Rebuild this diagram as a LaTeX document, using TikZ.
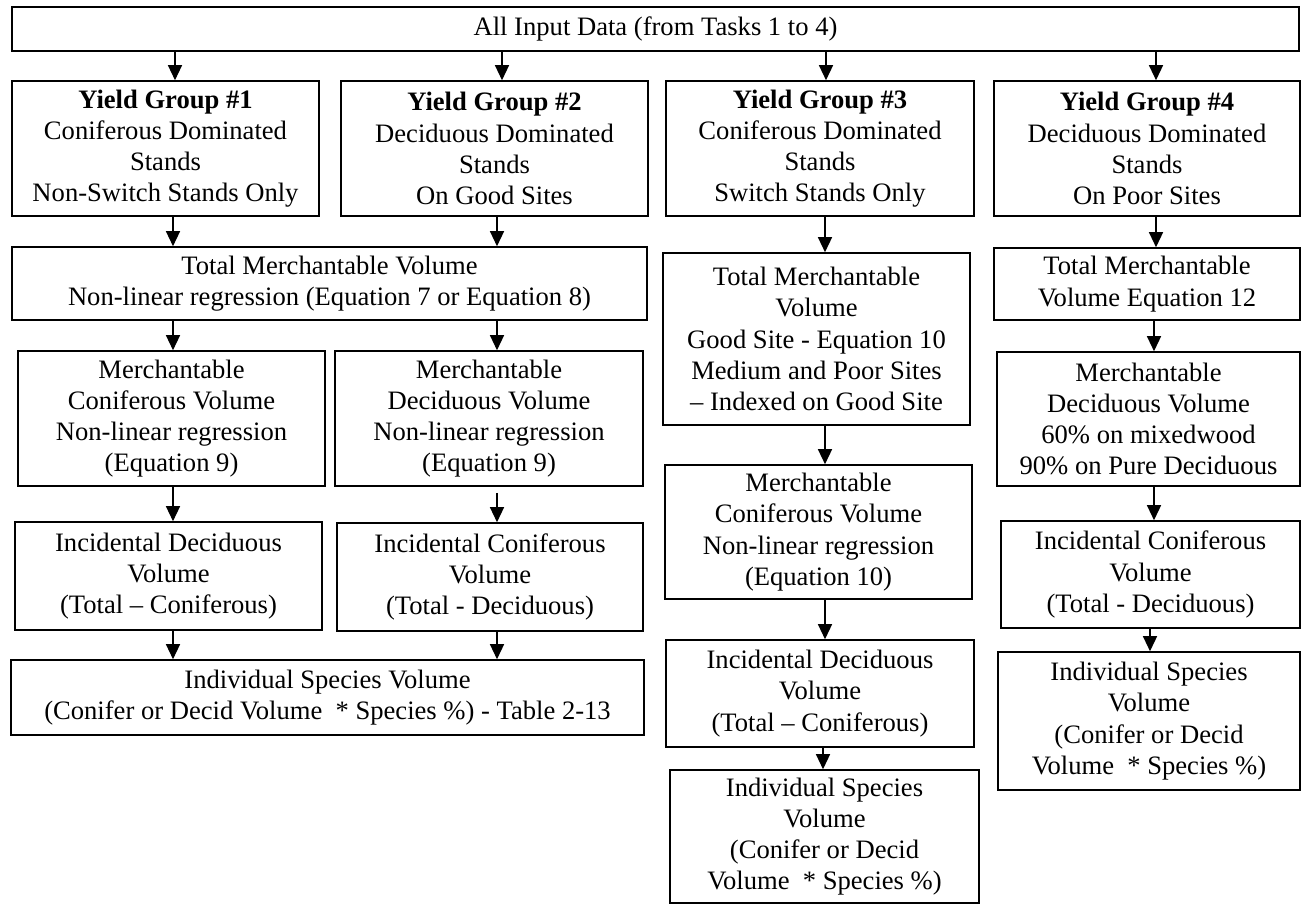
\documentclass[tikz,border=0pt]{standalone}
\usepackage{fontspec}
\setmainfont{Liberation Serif}
\usetikzlibrary{arrows.meta}
\tikzset{
  box/.style={draw, line width=0.8pt, inner sep=0pt, align=center, anchor=center,
    font=\fontsize{13.3}{15.6}\selectfont},
  arr/.style={line width=0.65pt, -{Triangle[length=7.5pt,width=7pt]}}
}
\newcommand{\mybox}[6]{\node[box, minimum width={(#4-#2)*0.5pt}, minimum height={(#5-#3)*0.5pt}] (#1) at ({(#2+#4)/2},{(#3+#5)/2}) {#6};}
\begin{document}
\begin{tikzpicture}[x=0.5pt,y=-0.5pt]
\useasboundingbox (0,0) rectangle (1304,907);
% top
\mybox{top}{12}{7}{1299}{51}{All Input Data (from Tasks 1 to 4)}
% yield groups
\mybox{yg1}{12}{81}{319}{216}{\textbf{Yield Group \#1}\\Coniferous Dominated\\Stands\\Non-Switch Stands Only}
\mybox{yg2}{341}{81}{648}{216}{\textbf{Yield Group \#2}\\Deciduous Dominated\\Stands\\On Good Sites}
\mybox{yg3}{666}{81}{974}{216}{\textbf{Yield Group \#3}\\Coniferous Dominated\\Stands\\Switch Stands Only}
\mybox{yg4}{994}{81}{1300}{216}{\textbf{Yield Group \#4}\\Deciduous Dominated\\Stands\\On Poor Sites}
% second row
\mybox{tmv1}{12}{247}{647}{320}{Total Merchantable Volume\\Non-linear regression (Equation 7 or Equation 8)}
\mybox{tmv3}{663}{253}{970}{425}{Total Merchantable\\Volume\\Good Site - Equation 10\\Medium and Poor Sites\\– Indexed on Good Site}
\mybox{tmv4}{994}{248}{1300}{320}{Total Merchantable\\Volume Equation 12}
% third row
\mybox{mcv1}{18}{351}{325}{486}{Merchantable\\Coniferous Volume\\Non-linear regression\\(Equation 9)}
\mybox{mdv2}{335}{351}{643}{486}{Merchantable\\Deciduous Volume\\Non-linear regression\\(Equation 9)}
\mybox{mcv3}{665}{465}{972}{599}{Merchantable\\Coniferous Volume\\Non-linear regression\\(Equation 10)}
\mybox{mdv4}{997}{352}{1300}{486}{Merchantable\\Deciduous Volume\\60\% on mixedwood\\90\% on Pure Deciduous}
% fourth row
\mybox{idv1}{15}{522}{322}{630}{Incidental Deciduous\\Volume\\(Total – Coniferous)}
\mybox{icv2}{337}{523}{643}{631}{Incidental Coniferous\\Volume\\(Total - Deciduous)}
\mybox{idv3}{666}{640}{974}{747}{Incidental Deciduous\\Volume\\(Total – Coniferous)}
\mybox{icv4}{1001}{521}{1300}{628}{Incidental Coniferous\\Volume\\(Total - Deciduous)}
% fifth row
\mybox{isv1}{11}{660}{644}{735}{Individual Species Volume\\(Conifer or Decid Volume \ * Species \%) - Table 2-13}
\mybox{isv3}{670}{770}{979}{903}{Individual Species\\Volume\\(Conifer or Decid\\Volume \ * Species \%)}
\mybox{isv4}{998}{652}{1300}{790}{Individual Species\\Volume\\(Conifer or Decid\\Volume \ * Species \%)}
% arrow x positions
\coordinate (a1) at (175,0);
\coordinate (a2) at (502,0);
\coordinate (a3) at (826,0);
\coordinate (a4) at (1156,0);
\coordinate (b1) at (173,0);
\coordinate (b2) at (497,0);
\coordinate (b3) at (825,0);
\coordinate (b4) at (1154,0);
\coordinate (c3) at (823,0);
\coordinate (c4) at (1150,0);
% arrows
\draw[arr] (top.south -| a1) -- (yg1.north -| a1);
\draw[arr] (top.south -| a2) -- (yg2.north -| a2);
\draw[arr] (top.south -| a3) -- (yg3.north -| a3);
\draw[arr] (top.south -| a4) -- (yg4.north -| a4);
\draw[arr] (yg1.south -| b1) -- (tmv1.north -| b1);
\draw[arr] (yg2.south -| b2) -- (tmv1.north -| b2);
\draw[arr] (yg3.south -| b3) -- (tmv3.north -| b3);
\draw[arr] (yg4.south -| a4) -- (tmv4.north -| a4);
\draw[arr] (tmv1.south -| b1) -- (mcv1.north -| b1);
\draw[arr] (tmv1.south -| b2) -- (mdv2.north -| b2);
\draw[arr] (tmv3.south -| b3) -- (mcv3.north -| b3);
\draw[arr] (tmv4.south -| b4) -- (mdv4.north -| b4);
\draw[arr] (mcv1.south -| b1) -- (idv1.north -| b1);
\draw[arr] ([yshift=-3pt]mdv2.south -| b2) -- (icv2.north -| b2);
\draw[arr] (mcv3.south -| b3) -- (idv3.north -| b3);
\draw[arr] (mdv4.south -| b4) -- (icv4.north -| b4);
\draw[arr] (idv1.south -| b1) -- (isv1.north -| b1);
\draw[arr] (icv2.south -| b2) -- (isv1.north -| b2);
\draw[arr] (idv3.south -| c3) -- (isv3.north -| c3);
\draw[arr] (icv4.south -| c4) -- (isv4.north -| c4);
\end{tikzpicture}
\end{document}
